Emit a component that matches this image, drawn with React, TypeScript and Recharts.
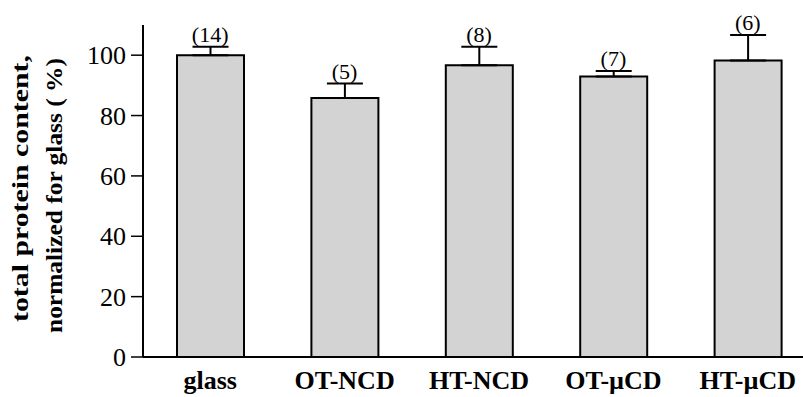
import {
  ComposedChart,
  Bar,
  ErrorBar,
  Scatter,
  XAxis,
  YAxis,
} from "recharts";

const GROUPS = ["glass", "OT-NCD", "HT-NCD", "OT-\u00b5CD", "HT-\u00b5CD"];
const MEANS = [100, 85.8, 96.7, 92.9, 98.2];
const SEM = [2.8, 4.8, 6.1, 1.9, 8.5];
const COUNTS = [14, 5, 8, 7, 6];
const Y_TICKS = [0, 20, 40, 60, 80, 100];

const SERIF = "'Liberation Serif', 'DejaVu Serif', serif";

const data = GROUPS.map((g, i) => ({
  group: g,
  mean: MEANS[i],
  err: [0, SEM[i]],
  top: MEANS[i] + SEM[i],
  n: `(${COUNTS[i]})`,
}));

function XTick(props: any) {
  const { x, y, payload } = props;
  return (
    <text
      x={x}
      y={y + 24}
      textAnchor="middle"
      fontFamily={SERIF}
      fontWeight="bold"
      fontSize={26}
      fill="#000"
    >
      {payload.value}
    </text>
  );
}

function YTick(props: any) {
  const { x, y, payload } = props;
  return (
    <text
      x={x - 3}
      y={y + 9}
      textAnchor="end"
      fontFamily={SERIF}
      fontSize={26}
      fill="#000"
    >
      {payload.value}
    </text>
  );
}

function YLabel() {
  return (
    <g fontFamily={SERIF} fontWeight="bold" fontSize={24} fill="#000">
      <text
        transform="translate(28,55) rotate(-90)"
        textAnchor="end"
        textLength={267}
        lengthAdjust="spacingAndGlyphs"
      >
        total protein content,
      </text>
      <text
        transform="translate(62,58) rotate(-90)"
        textAnchor="end"
        textLength={275}
        lengthAdjust="spacingAndGlyphs"
      >
        normalized for glass ( %)
      </text>
    </g>
  );
}

function CountLabel(props: any) {
  const { cx, cy, payload } = props;
  return (
    <text
      x={cx}
      y={cy - 5}
      textAnchor="middle"
      fontFamily={SERIF}
      fontSize={22}
      fill="#000"
    >
      {payload.n}
    </text>
  );
}

export default function App() {
  return (
    <div
      style={{
        position: "absolute",
        left: 0,
        top: 0,
        width: 803,
        height: 397,
        overflow: "hidden",
        background: "white",
      }}
    >
      <ComposedChart
        width={815}
        height={397}
        data={data}
        margin={{ top: 25, right: 0, left: 0, bottom: 0 }}
      >
        <XAxis
          dataKey="group"
          height={40}
          tickLine={false}
          axisLine={{ stroke: "#000", strokeWidth: 2 }}
          tick={<XTick />}
          interval={0}
        />
        <YAxis
          width={143}
          domain={[0, 110]}
          ticks={Y_TICKS}
          tickSize={12}
          tickLine={{ stroke: "#000", strokeWidth: 1.5 }}
          axisLine={{ stroke: "#000", strokeWidth: 2 }}
          tick={<YTick />}
          label={{ content: () => <YLabel /> }}
        />
        <Bar
          dataKey="mean"
          barSize={67}
          fill="#d3d3d3"
          stroke="#000"
          strokeWidth={2}
          isAnimationActive={false}
        >
          <ErrorBar dataKey="err" width={18} stroke="#000" strokeWidth={2} />
        </Bar>
        <Scatter
          dataKey="top"
          shape={<CountLabel />}
          isAnimationActive={false}
        />
      </ComposedChart>
    </div>
  );
}
